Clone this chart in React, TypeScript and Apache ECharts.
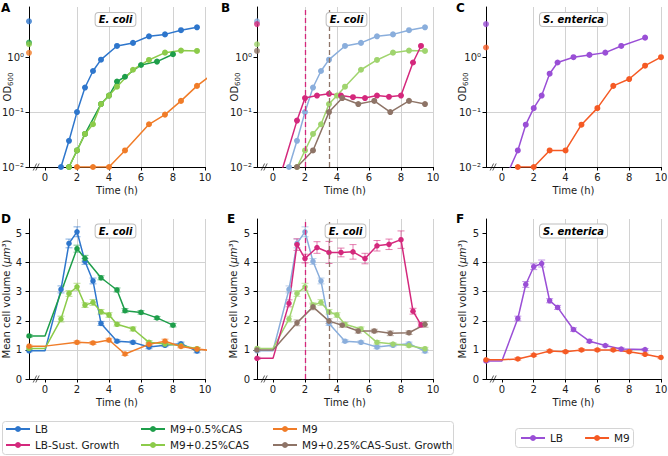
import React, { useEffect, useRef } from 'react';
import * as echarts from 'echarts';

// ---- OD600 time courses (h, OD) ----
const odLBInit = 4.5;
const odLBT = [1, 1.5, 2, 2.5, 3, 3.5, 4.5, 5.5, 6.5, 7.5, 8.5, 9.5];
const odLB = [0.01, 0.03, 0.1, 0.28, 0.56, 0.9, 1.6, 1.82, 2.4, 2.6, 3.1, 3.5];

const odLBSGInit = 4.0;
const odLBSGT = [0, 1.5, 2, 2.75, 3.5, 4.25, 5, 5.75, 6.5, 7.25, 8, 8.75, 9.25];
const odLBSG = [0.0025, 0.07, 0.18, 0.2, 0.215, 0.2, 0.187, 0.18, 0.2, 0.19, 0.2, 0.8, 1.6];

const odCas05Init = 1.84;
const odCas05T = [1.5, 2, 2.5, 3.5, 4, 4.5, 5, 6, 7, 8];
const odCas05 = [0.01, 0.02, 0.04, 0.14, 0.2, 0.36, 0.44, 0.72, 0.83, 1.13];

const odCas025Init = 1.72;
const odCas025T = [1.5, 2, 2.5, 3, 3.5, 4, 4.5, 5.5, 6.5, 7.5, 8.5, 9.5];
const odCas025 = [0.01, 0.02, 0.04, 0.06, 0.14, 0.2, 0.29, 0.59, 0.89, 1.21, 1.32, 1.3];

const odM9Init = 1.2;
const odM9T = [2, 3, 4, 5, 6.5, 7.5, 8.5, 9.5, 10.5];
const odM9 = [0.01, 0.01, 0.01, 0.02, 0.06, 0.09, 0.16, 0.3, 0.5];

const odCasSGInit = 1.3;
const odCasSGT = [1.5, 2.5, 3.5, 4.33, 5.33, 6.33, 7.33, 8.5, 9.5];
const odCasSG = [0.01, 0.02, 0.1, 0.18, 0.14, 0.16, 0.1, 0.16, 0.14];

const odSeLBInit = 4.0;
const odSeLBT = [0, 1, 1.5, 2, 2.5, 3, 3.5, 4.5, 5.5, 6.5, 7.5, 9];
const odSeLB = [0.0045, 0.02, 0.059, 0.118, 0.2, 0.5, 0.8, 1.0, 1.1, 1.21, 1.6, 2.27];

const odSeM9Init = 1.5;
const odSeM9T = [1, 2, 3, 4, 5, 6, 7, 8, 9, 10];
const odSeM9 = [0.01, 0.01, 0.02, 0.02, 0.059, 0.118, 0.3, 0.4, 0.7, 1.0];

// ---- Mean cell volume (µm³) with error ----
const volLBInit = [0.97, 0.04];
const volLBT = [1, 1.5, 2, 2.5, 3, 3.5, 4.5, 5.5, 6.5, 7.5, 8.5, 9.5];
const volLB = [3.08, 4.66, 5.06, 4.04, 3.37, 1.91, 1.3, 1.26, 1.1, 1.16, 1.21, 0.96];
const volLBErr = [0.12, 0.15, 0.17, 0.1, 0.1, 0.07, 0.05, 0.05, 0.06, 0.05, 0.06, 0.06];

const volCas05Init = [1.48, 0.05];
const volCas05T = [2, 2.5, 3.5, 4.5, 5, 6, 7, 8];
const volCas05 = [4.48, 4.15, 3.48, 3.06, 2.35, 2.29, 2.1, 1.85];
const volCas05Err = [0.12, 0.1, 0.07, 0.07, 0.07, 0.06, 0.05, 0.06];

const volCas025Init = [1.05, 0.04];
const volCas025T = [1, 1.5, 2, 2.5, 3, 3.5, 4, 4.5, 5.5, 6.5, 7.5, 8.5, 9.5];
const volCas025 = [2.06, 2.94, 3.17, 2.54, 2.63, 2.31, 2.2, 1.88, 1.72, 1.26, 1.2, 1.15, 1.04];
const volCas025Err = [0.1, 0.1, 0.12, 0.08, 0.1, 0.08, 0.08, 0.06, 0.07, 0.06, 0.05, 0.05, 0.05];

const volM9Init = [1.13, 0.04];
const volM9T = [2, 3, 4, 5, 6.5, 7.5, 8.5, 9.5, 10.5];
const volM9 = [1.26, 1.24, 1.34, 0.86, 1.19, 1.3, 1.12, 1.03, 0.97];
const volM9Err = [0.05, 0.05, 0.06, 0.05, 0.05, 0.07, 0.05, 0.05, 0.05];

const volLBSGInit = [0.71, 0.04];
const volLBSGT = [1, 1.5, 2, 2.75, 3.5, 4.25, 5, 5.75, 6.5, 7.25, 8, 8.75, 9.25];
const volLBSG = [2.6, 4.62, 4.14, 4.52, 4.35, 4.35, 4.37, 4.14, 4.58, 4.63, 4.79, 2.33, 1.86];
const volLBSGErr = [0.12, 0.2, 0.15, 0.2, 0.38, 0.15, 0.25, 0.18, 0.18, 0.18, 0.3, 0.1, 0.07];

const volCasSGInit = [1.0, 0.04];
const volCasSGT = [1.5, 2.5, 3.5, 4.33, 5.33, 6.33, 7.33, 8.5, 9.5];
const volCasSG = [1.93, 2.48, 1.99, 1.85, 1.65, 1.65, 1.57, 1.59, 1.88];
const volCasSGErr = [0.1, 0.1, 0.08, 0.07, 0.07, 0.06, 0.08, 0.06, 0.1];

const volSeLBInit = [0.62, 0.04];
const volSeLBT = [1, 1.5, 2, 2.5, 3, 3.5, 4.5, 5.5, 6.5, 7.5, 9];
const volSeLB = [2.08, 3.25, 3.86, 3.97, 2.69, 2.46, 1.7, 1.3, 1.15, 1.03, 1.01];
const volSeLBErr = [0.08, 0.1, 0.1, 0.12, 0.07, 0.07, 0.06, 0.05, 0.04, 0.04, 0.04];

const volSeM9Init = [0.66, 0.04];
const volSeM9T = [1, 2, 3, 4, 5, 6, 7, 8, 9, 10];
const volSeM9 = [0.69, 0.82, 0.96, 0.94, 1.0, 1.0, 1.0, 0.94, 0.85, 0.74];
const volSeM9Err = [0.04, 0.04, 0.04, 0.04, 0.04, 0.04, 0.04, 0.04, 0.04, 0.04];

// Sustained-growth switch times (h)
const switchLBSG = 2;
const switchCasSG = 3.5;

// Axis ticks
const timeTicks = [0, 2, 4, 6, 8, 10];
const odTicks = [0.01, 0.1, 1];
const volTicks = [0, 1, 2, 3, 4, 5];

const NAMES = {
  lb: 'LB',
  lbsg: 'LB-Sust. Growth',
  cas05: 'M9+0.5%CAS',
  cas025: 'M9+0.25%CAS',
  m9: 'M9',
  casSG: 'M9+0.25%CAS-Sust. Growth',
};

const COL = {
  lb: '#2e76cc',
  lbLight: '#8aaedc',
  lbsg: '#d4287c',
  cas05: '#1e9e4a',
  cas025: '#8ccb4a',
  cas025Light: '#a0d46e',
  m9: '#f07c28',
  casSG: '#8e7467',
  seLb: '#9a4fd6',
  seM9: '#f55a24',
};

const FONT = '"DejaVu Sans", sans-serif';
const INK = '#1a1a1a';
const GRIDLINE = '#d2d2d2';

const GRIDS = [
  { left: 29, top: 7, width: 176, height: 160 },
  { left: 257, top: 7, width: 176, height: 160 },
  { left: 486, top: 7, width: 175, height: 160 },
  { left: 29, top: 219, width: 176, height: 160 },
  { left: 257, top: 219, width: 176, height: 160 },
  { left: 486, top: 219, width: 175, height: 160 },
];

const SUP: Record<string, string> = { '0': '⁰', '1': '¹', '2': '²', '3': '³', '-': '⁻' };
const pow10Label = (v: number) => {
  const e = String(Math.round(Math.log10(v)));
  return '10' + e.split('').map((c) => SUP[c] || c).join('');
};

function xAxisFor(g: number) {
  return {
    gridIndex: g,
    type: 'value',
    min: -1,
    max: 10,
    name: 'Time (h)',
    nameLocation: 'middle',
    nameGap: 18,
    nameMoveOverlap: false,
    nameTextStyle: { fontFamily: FONT, fontSize: 10, color: INK },
    axisLine: { show: true, onZero: false, lineStyle: { color: '#000', width: 1 } },
    axisTick: { show: true, length: 3.5, customValues: timeTicks, lineStyle: { color: '#000' } },
    axisLabel: { customValues: timeTicks, margin: 5, fontFamily: FONT, fontSize: 10, color: INK },
    splitLine: { show: true, showMinLine: false, lineStyle: { color: GRIDLINE, width: 1 } },
  };
}

function yAxisOD(g: number) {
  return {
    gridIndex: g,
    type: 'log',
    logBase: 10,
    min: 0.01,
    max: 8.2,
    axisLine: { show: true, onZero: false, lineStyle: { color: '#000', width: 1 } },
    axisTick: { show: true, length: 3.5, customValues: odTicks, lineStyle: { color: '#000' } },
    axisLabel: { customValues: odTicks, margin: 5, fontFamily: FONT, fontSize: 10, color: INK, formatter: pow10Label },
    splitLine: { show: true, showMaxLine: false, lineStyle: { color: GRIDLINE, width: 1 } },
  };
}

function yAxisVol(g: number) {
  return {
    gridIndex: g,
    type: 'value',
    min: 0,
    max: 5.5,
    axisLine: { show: true, onZero: false, lineStyle: { color: '#000', width: 1 } },
    axisTick: { show: true, length: 3.5, customValues: volTicks, lineStyle: { color: '#000' } },
    axisLabel: { customValues: volTicks, margin: 7, fontFamily: FONT, fontSize: 10, color: INK },
    splitLine: { show: true, showMaxLine: false, lineStyle: { color: GRIDLINE, width: 1 } },
  };
}

function dashedAt(x: number, color: string) {
  return {
    silent: true,
    symbol: ['none', 'none'],
    label: { show: false },
    lineStyle: { color, type: [5, 3], width: 1.3 },
    data: [{ xAxis: x }],
  };
}

function odSeries(name: string, color: string, g: number, init: number, t: number[], v: number[], extra: any = {}) {
  return [
    {
      type: 'line',
      name,
      xAxisIndex: g,
      yAxisIndex: g,
      data: t.map((x, i) => [x, v[i]]),
      symbol: 'circle',
      symbolSize: 6,
      showAllSymbol: true,
      lineStyle: { color, width: 1.5 },
      itemStyle: { color },
      emphasis: { disabled: true },
      ...extra,
    },
    {
      type: 'scatter',
      name,
      xAxisIndex: g,
      yAxisIndex: g,
      data: [[-1, init]],
      symbolSize: 6,
      clip: false,
      itemStyle: { color },
      emphasis: { disabled: true },
    },
  ];
}

function errBars(color: string, g: number, rows: number[][]) {
  return {
    type: 'custom',
    xAxisIndex: g,
    yAxisIndex: g,
    data: rows,
    encode: { x: 0, y: 1 },
    clip: true,
    silent: true,
    renderItem: (_p: any, api: any) => {
      const x = api.value(0);
      const y = api.value(1);
      const e = api.value(2);
      const a = api.coord([x, y + e]);
      const b = api.coord([x, y - e]);
      const w = 3.5;
      const style = { stroke: color, lineWidth: 1, opacity: 0.6 };
      return {
        type: 'group',
        children: [
          { type: 'line', shape: { x1: a[0], y1: a[1], x2: b[0], y2: b[1] }, style },
          { type: 'line', shape: { x1: a[0] - w, y1: a[1], x2: a[0] + w, y2: a[1] }, style },
          { type: 'line', shape: { x1: b[0] - w, y1: b[1], x2: b[0] + w, y2: b[1] }, style },
        ],
      };
    },
  };
}

function volSeries(name: string, color: string, g: number, init: number[], t: number[], v: number[], e: number[], extra: any = {}) {
  return [
    errBars(color, g, [[-1, init[0], init[1]], ...t.map((x, i) => [x, v[i], e[i]])]),
    {
      type: 'line',
      name,
      xAxisIndex: g,
      yAxisIndex: g,
      data: [[-1, init[0]], { value: [0, init[0]], symbol: 'none' }, ...t.map((x, i) => [x, v[i]])],
      symbol: 'circle',
      symbolSize: 5.5,
      showAllSymbol: true,
      lineStyle: { color, width: 1.5 },
      itemStyle: { color },
      emphasis: { disabled: true },
      ...extra,
    },
  ];
}

function breakMark(g: number, y: number) {
  return {
    type: 'scatter',
    xAxisIndex: g,
    yAxisIndex: g,
    data: [[-0.55, y]],
    symbol: 'path://M0,10L4,0M3,10L7,0',
    symbolSize: [6, 7],
    clip: false,
    silent: true,
    z: 5,
    itemStyle: { color: 'transparent', borderColor: '#000', borderWidth: 0.8 },
  };
}

function buildOption() {
  const series: any[] = [
    // A
    ...odSeries(NAMES.lb, COL.lb, 0, odLBInit, odLBT, odLB),
    ...odSeries(NAMES.cas05, COL.cas05, 0, odCas05Init, odCas05T, odCas05),
    ...odSeries(NAMES.cas025, COL.cas025, 0, odCas025Init, odCas025T, odCas025),
    ...odSeries(NAMES.m9, COL.m9, 0, odM9Init, odM9T, odM9),
    // B
    ...odSeries(NAMES.lb, COL.lbLight, 1, odLBInit, odLBT, odLB),
    ...odSeries(NAMES.cas025, COL.cas025Light, 1, odCas025Init, odCas025T, odCas025),
    ...odSeries(NAMES.lbsg, COL.lbsg, 1, odLBSGInit, odLBSGT, odLBSG, { markLine: dashedAt(switchLBSG, COL.lbsg) }),
    ...odSeries(NAMES.casSG, COL.casSG, 1, odCasSGInit, odCasSGT, odCasSG, { markLine: dashedAt(switchCasSG, COL.casSG) }),
    // C
    ...odSeries(NAMES.lb, COL.seLb, 2, odSeLBInit, odSeLBT, odSeLB),
    ...odSeries(NAMES.m9, COL.seM9, 2, odSeM9Init, odSeM9T, odSeM9),
    // D
    ...volSeries(NAMES.lb, COL.lb, 3, volLBInit, volLBT, volLB, volLBErr),
    ...volSeries(NAMES.cas05, COL.cas05, 3, volCas05Init, volCas05T, volCas05, volCas05Err),
    ...volSeries(NAMES.cas025, COL.cas025, 3, volCas025Init, volCas025T, volCas025, volCas025Err),
    ...volSeries(NAMES.m9, COL.m9, 3, volM9Init, volM9T, volM9, volM9Err),
    // E
    ...volSeries(NAMES.lb, COL.lbLight, 4, volLBInit, volLBT, volLB, volLBErr),
    ...volSeries(NAMES.cas025, COL.cas025Light, 4, volCas025Init, volCas025T, volCas025, volCas025Err),
    ...volSeries(NAMES.lbsg, COL.lbsg, 4, volLBSGInit, volLBSGT, volLBSG, volLBSGErr, { markLine: dashedAt(switchLBSG, COL.lbsg) }),
    ...volSeries(NAMES.casSG, COL.casSG, 4, volCasSGInit, volCasSGT, volCasSG, volCasSGErr, { markLine: dashedAt(switchCasSG, COL.casSG) }),
    // F
    ...volSeries(NAMES.lb, COL.seLb, 5, volSeLBInit, volSeLBT, volSeLB, volSeLBErr),
    ...volSeries(NAMES.m9, COL.seM9, 5, volSeM9Init, volSeM9T, volSeM9, volSeM9Err),
    // axis break marks
    breakMark(0, 0.01),
    breakMark(1, 0.01),
    breakMark(2, 0.01),
    breakMark(3, 0),
    breakMark(4, 0),
    breakMark(5, 0),
  ];

  const legendBase = {
    orient: 'vertical',
    padding: 0,
    itemGap: 2,
    itemWidth: 24,
    itemHeight: 7.5,
    selectedMode: false,
    textStyle: { fontFamily: FONT, fontSize: 10.5, color: INK, lineHeight: 14 },
  };
  const item = (name: string, color: string) => ({ name, itemStyle: { color }, lineStyle: { color } });

  const letter = (text: string, x: number, y: number) => ({
    type: 'text',
    x,
    y,
    style: { text, font: `bold 12px ${FONT}`, fill: '#000', align: 'left', verticalAlign: 'top' },
  });
  const species = (text: string, x: number, y: number) => ({
    type: 'text',
    x,
    y,
    z: 10,
    style: {
      text,
      font: `italic bold 10px ${FONT}`,
      fill: '#000',
      align: 'center',
      verticalAlign: 'middle',
      backgroundColor: '#fff',
      borderColor: '#bdbdbd',
      borderWidth: 1,
      borderRadius: 3,
      padding: [2, 3, 1, 3],
    },
  });
  // Rotated y-axis titles
  const odTitle = (x: number) => ({
    type: 'text',
    x,
    y: 87,
    rotation: Math.PI / 2,
    style: {
      text: '{a|OD}{b|600}',
      align: 'center',
      verticalAlign: 'middle',
      rich: {
        a: { fontFamily: FONT, fontSize: 10, fill: INK, lineHeight: 13, verticalAlign: 'bottom' },
        b: { fontFamily: FONT, fontSize: 7, fill: INK, lineHeight: 13, verticalAlign: 'bottom', padding: [0, 0, -2, 0] },
      },
    },
  });
  const volTitle = (x: number) => ({
    type: 'text',
    x,
    y: 299,
    rotation: Math.PI / 2,
    style: {
      text: '{t|Mean cell volume (}{i|μm³}{t|)}',
      align: 'center',
      verticalAlign: 'middle',
      rich: {
        t: { fontFamily: FONT, fontSize: 10, fill: INK },
        i: { fontFamily: FONT, fontSize: 10, fill: INK, fontStyle: 'italic' },
      },
    },
  });

  return {
    animation: false,
    backgroundColor: '#fff',
    textStyle: { fontFamily: FONT },
    grid: GRIDS.map((g) => ({ ...g, containLabel: false, outerBoundsMode: 'none' })),
    xAxis: GRIDS.map((_, i) => xAxisFor(i)),
    yAxis: [yAxisOD(0), yAxisOD(1), yAxisOD(2), yAxisVol(3), yAxisVol(4), yAxisVol(5)],
    legend: [
      { ...legendBase, left: 5, top: 422, data: [item(NAMES.lb, COL.lb), item(NAMES.lbsg, COL.lbsg)] },
      { ...legendBase, left: 140, top: 422, data: [item(NAMES.cas05, COL.cas05), item(NAMES.cas025, COL.cas025)] },
      { ...legendBase, left: 272, top: 422, data: [item(NAMES.m9, COL.m9), item(NAMES.casSG, COL.casSG)] },
      {
        ...legendBase,
        orient: 'horizontal',
        itemGap: 21,
        left: 520,
        top: 431,
        data: [item(NAMES.lb, COL.seLb), item(NAMES.m9, COL.seM9)],
      },
    ],
    graphic: [
      letter('A', 1, 2),
      letter('B', 221, 2),
      letter('C', 456, 2),
      letter('D', 1, 213),
      letter('E', 227, 213),
      letter('F', 456, 213),
      odTitle(6),
      odTitle(233),
      odTitle(461),
      volTitle(6),
      volTitle(233),
      volTitle(462),
      species('E. coli', 115.5, 19.5),
      species('E. coli', 346.5, 19.5),
      species('S. enterica', 573.5, 19.5),
      species('E. coli', 115.5, 231),
      species('E. coli', 345.5, 231),
      species('S. enterica', 573.5, 231),
      {
        type: 'rect',
        shape: { x: 2.5, y: 421.5, width: 451, height: 33, r: 3 },
        style: { fill: 'none', stroke: '#d4d4d4', lineWidth: 1 },
      },
      {
        type: 'rect',
        shape: { x: 515.5, y: 428.5, width: 118, height: 19, r: 3 },
        style: { fill: 'none', stroke: '#d4d4d4', lineWidth: 1 },
      },
    ],
    series,
  };
}

export default function App() {
  const ref = useRef<HTMLDivElement>(null);
  useEffect(() => {
    if (!ref.current) return;
    const chart = echarts.init(ref.current, null, { renderer: 'svg' });
    chart.setOption(buildOption() as any);
    return () => chart.dispose();
  }, []);
  return (
    <div
      ref={ref}
      style={{ position: 'absolute', left: 0, top: 0, width: 668, height: 456, background: '#fff' }}
    />
  );
}
